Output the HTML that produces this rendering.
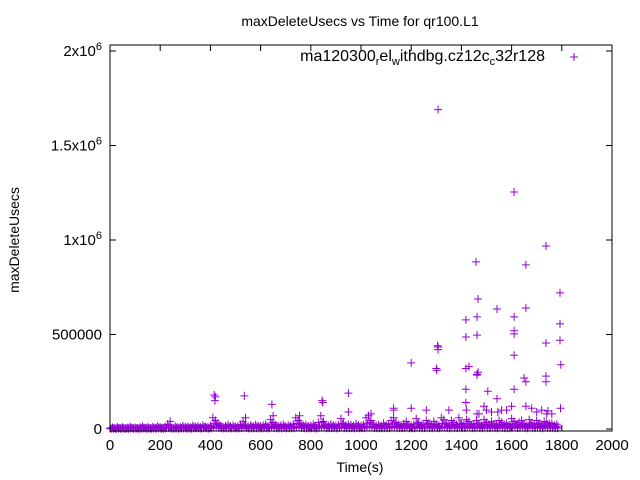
<!DOCTYPE html>
<html><head><meta charset="utf-8">
<style>
html,body{margin:0;padding:0;background:#fff;}
svg{display:block;font-family:"Liberation Sans",sans-serif;}
</style></head>
<body>
<svg id="chart" width="640" height="480" viewBox="0 0 640 480" xmlns="http://www.w3.org/2000/svg">
<rect x="0" y="0" width="640" height="480" fill="#fff"/>
<text x="360" y="26" font-size="14" text-anchor="middle">maxDeleteUsecs vs Time for qr100.L1</text>
<text transform="translate(19,240) rotate(-90)" font-size="14" text-anchor="middle">maxDeleteUsecs</text>
<text x="360" y="472" font-size="14" text-anchor="middle">Time(s)</text>
<g id="axes"></g>
<g id="marks"></g>
<g>
<text x="545" y="61" font-size="16" text-anchor="end">ma120300<tspan font-size="11" dy="4">r</tspan><tspan dy="-4">el</tspan><tspan font-size="11" dy="4">w</tspan><tspan dy="-4">ithdbg.cz12c</tspan><tspan font-size="11" dy="4">c</tspan><tspan dy="-4">32r128</tspan></text>
<path d="M570,57h8M574,53v8" stroke="#9400d3" stroke-width="1"/>
</g>
<rect x="110" y="45" width="502" height="386" fill="none" stroke="#000" stroke-width="1"/>
</svg>
<script>
const xTicks=[0,200,400,600,800,1000,1200,1400,1600,1800,2000];
const yTicks=[0,500000,1000000,1500000,2000000];
const yTickLabels=["0","500000","1x10^6","1.5x10^6","2x10^6"];
// spike points (time seconds, usecs)
const spikeTimes=[1307,1305,1307,1610,1737,1458,1657,1466,1793,1542,1657,1418,1462,1610,1793,1418,1462,1610,1737,1307,1793,1418,1462,1737,1610,1200,1650,1542,1466,1418,1737,1462,1300,1302,1610,1430,1796,1418,1657,1505,1740,1610,415,418,420,535,645,950,845,848,1040,1130,1200,1260,1350,1420,1462,1500,1545,1580,1657,1700,1745,1795,240,540,650,755,950,1130,1470,1490,1520,1560,1600,1680,1720,1760];
const spikeValues=[1690000,440000,420000,1254000,968000,884000,868000,688000,720000,635000,640000,577000,593000,593000,556000,487000,497000,503000,455000,434000,470000,320000,290000,280000,390000,350000,270000,160000,300000,210000,250000,285000,320000,310000,520000,330000,340000,140000,250000,200000,80000,210000,180000,150000,170000,175000,130000,190000,150000,140000,80000,100000,110000,100000,100000,100000,80000,100000,90000,100000,120000,90000,95000,110000,40000,60000,70000,70000,90000,110000,80000,120000,90000,100000,120000,110000,100000,80000];
// baseline points (thousands of usecs), one every 10s starting at 0
const baseValues=[5,8,4,10,6,9,5,7,12,6,8,5,9,14,7,10,6,11,8,15,9,7,12,25,10,8,14,9,11,16,10,13,9,18,12,15,10,20,14,11,17,60,45,30,18,12,16,22,14,19,13,15,24,40,18,14,20,16,22,17,15,19,25,14,50,35,21,16,18,24,15,20,17,26,60,45,30,19,22,16,18,25,14,35,70,40,22,18,26,20,17,23,55,30,19,24,21,16,28,20,18,22,60,70,45,25,19,23,18,30,21,26,45,60,35,24,20,28,40,22,17,25,55,35,20,26,45,30,22,40,25,18,60,50,30,22,45,35,24,60,30,25,50,40,22,28,45,30,20,50,35,24,40,28,20,45,35,25,30,22,55,40,26,35,45,28,20,50,32,25,45,30,22,40,35,28,30,20,25];
const X0=110,X1=612,Y0=429,Y1=51;
function xs(t){return X0+(t-0)/(2000-0)*(X1-X0);}
function ys(v){return Y0-(v-0)/(2000000-0)*(Y0-Y1);}
const NS="http://www.w3.org/2000/svg";
const axes=document.getElementById('axes');
xTicks.forEach((t,i)=>{
  const x=xs(t);
  const p=document.createElementNS(NS,'path');
  
  
  p.setAttribute('d',`M${x},431v-6M${x},45v6`);p.setAttribute('stroke','#000');
  axes.appendChild(p);
  const tx=document.createElementNS(NS,'text');
  
  
  tx.setAttribute('x',x);tx.setAttribute('y',450);tx.setAttribute('font-size','15');tx.setAttribute('text-anchor','middle');
  tx.textContent=String(t);axes.appendChild(tx);
});
yTicks.forEach((v,i)=>{
  const y=ys(v);
  const p=document.createElementNS(NS,'path');
  
  
  p.setAttribute('d',`M110,${y}h6M612,${y}h-6`);p.setAttribute('stroke','#000');
  axes.appendChild(p);
  const tx=document.createElementNS(NS,'text');
  
  
  tx.setAttribute('x',102);tx.setAttribute('y',y+5);tx.setAttribute('font-size','15');tx.setAttribute('text-anchor','end');
  const lab=yTickLabels[i];
  if(lab.includes('^')){const [a,b]=lab.split('^');
    tx.innerHTML=`${a}<tspan font-size="11" dy="-6">${b}</tspan>`;}
  else tx.textContent=lab;
  axes.appendChild(tx);
});
const marks=document.getElementById('marks');
let d='';
function add(t,v){if(!isFinite(t)||!isFinite(v))return;const x=xs(t),y=ys(v);d+=`M${(x-4).toFixed(1)},${y.toFixed(1)}h8M${x.toFixed(1)},${(y-4).toFixed(1)}v8`;}
baseValues.forEach((v,i)=>{const t=i*10;add(t,v*1000);add(t+5,v*500);add(t+3,v*200);});
spikeTimes.forEach((t,i)=>add(t,spikeValues[i]));
const path=document.createElementNS(NS,'path');


path.setAttribute('d',d);path.setAttribute('stroke','#9400d3');path.setAttribute('stroke-width','1');path.setAttribute('fill','none');
marks.appendChild(path);
</script>
</body></html>
